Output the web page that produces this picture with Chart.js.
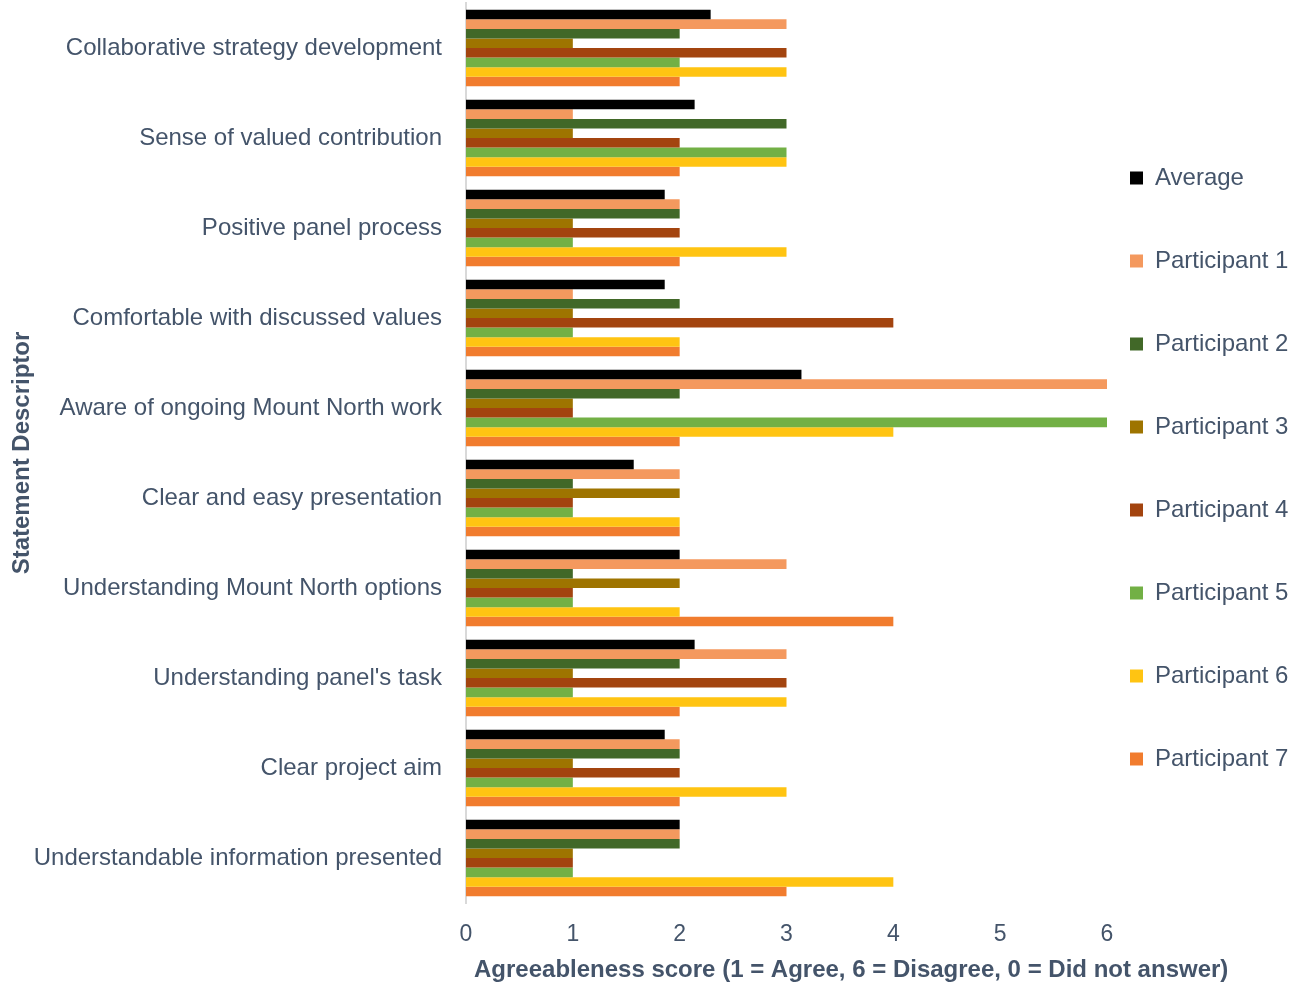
<!DOCTYPE html>
<html>
<head>
<meta charset="utf-8">
<script src="https://cdn.jsdelivr.net/npm/chart.js@4.4.1/dist/chart.umd.min.js"></script>
<style>
    html, body { margin: 0; padding: 0; background: #fff; }
    #wrap { width: 1295px; height: 987px; position: relative; }
</style>
</head>
<body>
<div id="wrap"><canvas id="scoreChart"></canvas></div>
<script>
const statements = [
    'Collaborative strategy development',
    'Sense of valued contribution',
    'Positive panel process',
    'Comfortable with discussed values',
    'Aware of ongoing Mount North work',
    'Clear and easy presentation',
    'Understanding Mount North options',
    "Understanding panel's task",
    'Clear project aim',
    'Understandable information presented'
];

const average       = [2.29, 2.14, 1.86, 1.86, 3.14, 1.57, 2.00, 2.14, 1.86, 2.00];
const participant1  = [3, 1, 2, 1, 6, 2, 3, 3, 2, 2];
const participant2  = [2, 3, 2, 2, 2, 1, 1, 2, 2, 2];
const participant3  = [1, 1, 1, 1, 1, 2, 2, 1, 1, 1];
const participant4  = [3, 2, 2, 4, 1, 1, 1, 3, 2, 1];
const participant5  = [2, 3, 1, 1, 6, 1, 1, 1, 1, 1];
const participant6  = [3, 3, 3, 2, 4, 2, 2, 3, 3, 4];
const participant7  = [2, 2, 2, 2, 2, 2, 4, 2, 2, 3];

const xTicks = [0, 1, 2, 3, 4, 5, 6];
const xTitle = 'Agreeableness score (1 = Agree, 6 = Disagree, 0 = Did not answer)';

const textColor = '#44546A';
const fontFamily = '"Liberation Sans", Arial, sans-serif';
const legendPadding = 59;
const legendGap = 23;        // space between plot area and legend boxes
const legendTopOffset = 104; // legend starts a bit below the plot top
const yAxisWidth = 466;      // room for the long statement labels
const xAxisHeight = 84;      // tick labels + title underneath

const seriesDefs = [
    { label: 'Average',       data: average,      color: '#000000' },
    { label: 'Participant 1', data: participant1, color: '#F4995E' },
    { label: 'Participant 2', data: participant2, color: '#416828' },
    { label: 'Participant 3', data: participant3, color: '#9E7400' },
    { label: 'Participant 4', data: participant4, color: '#A3440F' },
    { label: 'Participant 5', data: participant5, color: '#72B045' },
    { label: 'Participant 6', data: participant6, color: '#FFC412' },
    { label: 'Participant 7', data: participant7, color: '#F17C2E' }
];

// move legend next to the plot; built-in padding is used for row spacing
const legendShift = {
    id: 'legendShift',
    beforeDraw(chart) {
        const lg = chart.legend;
        if (!lg) return;
        lg.left = chart.chartArea.right + legendGap - legendPadding;
        lg.width = lg.right - lg.left;
        const h = lg.bottom - lg.top;
        lg.top = chart.chartArea.top + legendTopOffset;
        lg.bottom = lg.top + h;
    }
};

// x title is wider than the plot, so draw it unsqueezed from the plot's left edge
const wideXTitle = {
    id: 'wideXTitle',
    afterDraw(chart) {
        const x = chart.scales.x;
        const c = chart.ctx;
        c.save();
        c.font = 'bold 24px ' + fontFamily;
        c.fillStyle = textColor;
        c.textAlign = 'left';
        c.textBaseline = 'middle';
        c.fillText(xTitle, x.left + 8, x.bottom - 17);
        c.restore();
    }
};

const ctx = document.getElementById('scoreChart').getContext('2d');

new Chart(ctx, {
    type: 'bar',
    data: {
        labels: statements,
        datasets: seriesDefs.map(s => ({
            label: s.label,
            data: s.data,
            backgroundColor: s.color,
            borderWidth: 0,
            barPercentage: 1.0,
            categoryPercentage: 0.85
        }))
    },
    options: {
        indexAxis: 'y',
        responsive: true,
        maintainAspectRatio: false,
        animation: false,
        layout: {
            padding: { top: 3, right: 0, bottom: 0, left: 0 }
        },
        scales: {
            x: {
                min: 0,
                max: 6,
                afterBuildTicks: axis => {
                    axis.ticks = xTicks.map(v => ({ value: v }));
                },
                afterFit: scale => {
                    scale.height = xAxisHeight;
                },
                grid: { display: false, drawTicks: false },
                border: { display: false },
                ticks: {
                    color: textColor,
                    padding: 18,
                    font: { family: fontFamily, size: 23 }
                },
                title: { display: false }
            },
            y: {
                afterFit: scale => {
                    scale.width = yAxisWidth;
                    scale.paddingTop = 0;
                    scale.paddingBottom = 0;
                },
                grid: { display: false, drawTicks: false },
                border: { display: true, color: '#D9D9D9', width: 2 },
                ticks: {
                    color: textColor,
                    padding: 24,
                    font: { family: fontFamily, size: 24 }
                },
                title: {
                    display: true,
                    text: 'Statement Descriptor',
                    color: textColor,
                    font: { family: fontFamily, size: 24, weight: 'bold' },
                    padding: { top: 8, bottom: 0 }
                }
            }
        },
        plugins: {
            legend: {
                position: 'right',
                align: 'start',
                maxWidth: 188,
                labels: {
                    color: textColor,
                    boxWidth: 13,
                    boxHeight: 13,
                    padding: legendPadding,
                    font: { family: fontFamily, size: 24 }
                }
            },
            tooltip: { enabled: false }
        }
    },
    plugins: [legendShift, wideXTitle]
});
</script>
</body>
</html>
